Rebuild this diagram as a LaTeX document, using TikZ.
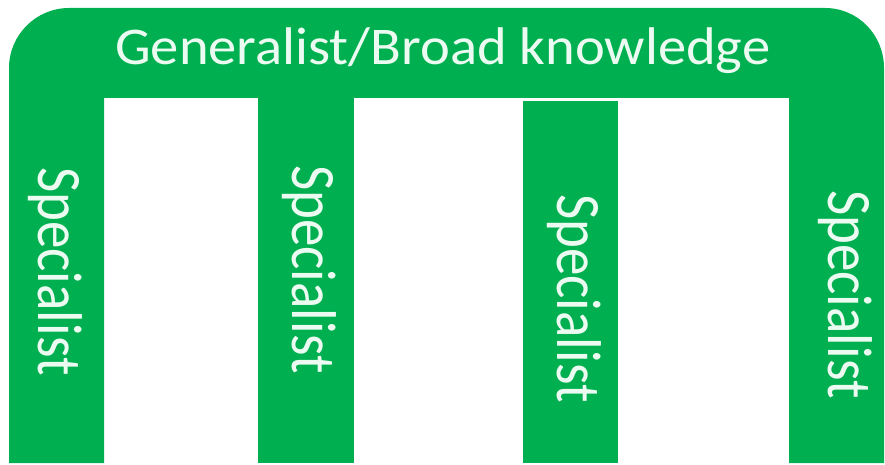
\documentclass[tikz,border=0pt]{standalone}
\usepackage{fontspec}
\setmainfont{Carlito}
\definecolor{offgreen}{RGB}{0,176,80}
\definecolor{mint}{RGB}{236,251,241}
\tikzset{
  band/.style={fill=offgreen, draw=none},
  spec/.style={rotate=-90, anchor=base west, inner sep=0pt, text=mint,
    font=\fontsize{55}{60}\selectfont},
  gentext/.style={anchor=base west, inner sep=0pt, text=mint,
    font=\fontsize{53}{60}\selectfont}
}
\begin{document}
\begin{tikzpicture}[x=1pt,y=-1pt]
\useasboundingbox (0,0) rectangle (885,465);
\fill[white] (0,0) rectangle (885,465);
% arch: left column + top bar + right column
\fill[band] (9,463) -- (9,68) .. controls (9,35) and (36,8) .. (69,8)
  -- (825,8) .. controls (858,8) and (884,35) .. (884,68)
  -- (884,463) -- (789,463) -- (789,98) -- (104,98) -- (104,463) -- cycle;
% inner columns
\fill[band] (258,97) rectangle (354,463);
\fill[band] (523,101) rectangle (618,463);
% texts
\node[gentext] (gen) at (115,65) {\scalebox{1.067}[1]{Generalist/Broad knowledge}};
\node[spec] (s1) at (38,167) {\scalebox{1}[1.15]{Specialist}};
\node[spec] (s2) at (292,165) {\scalebox{1}[1.15]{Specialist}};
\node[spec] (s3) at (557,194) {\scalebox{1}[1.15]{Specialist}};
\node[spec] (s4) at (828,190) {\scalebox{1}[1.15]{Specialist}};
\end{tikzpicture}
\end{document}
